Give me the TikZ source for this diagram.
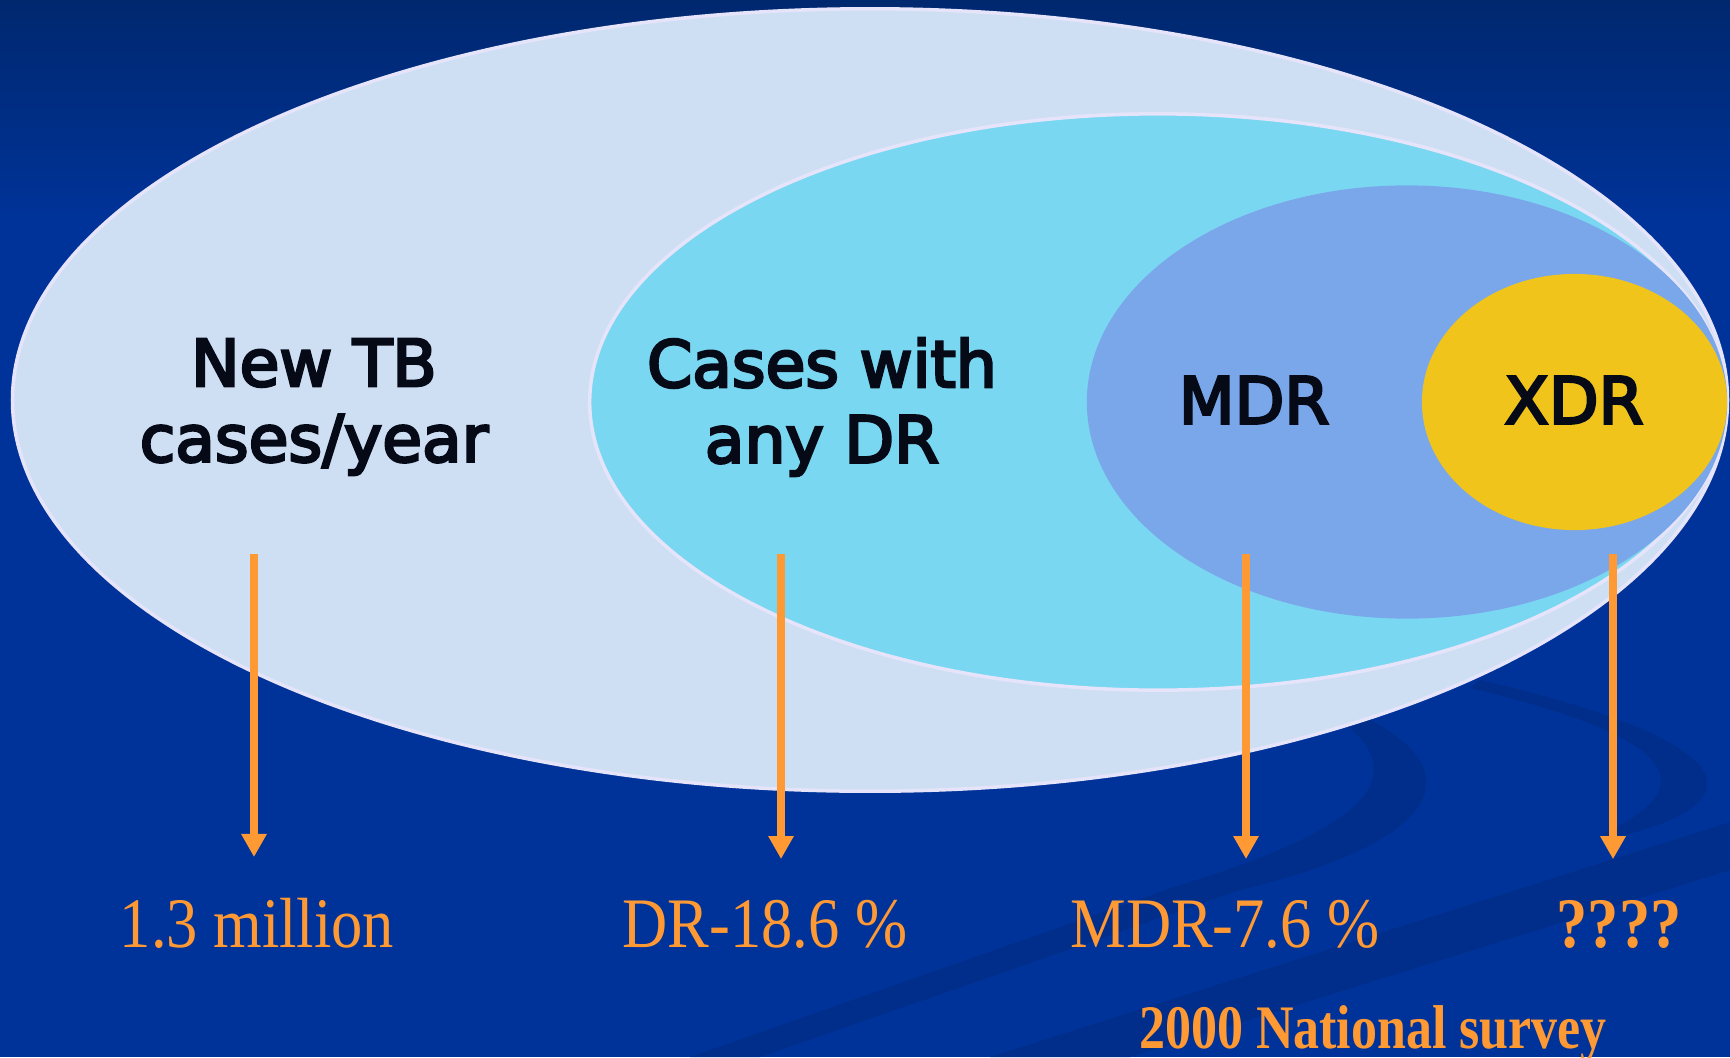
\documentclass[tikz,border=0pt]{standalone}
\usepackage{fontspec}
\setmainfont{Liberation Serif}
\newfontfamily\zonefont[FakeBold=4]{DejaVu Sans}
\newfontfamily\valfont[FakeStretch=0.88]{Liberation Serif}
\newfontfamily\surveyfont[FakeStretch=0.84]{Liberation Serif}
\usepackage{xcolor}
\usetikzlibrary{shapes.geometric, arrows.meta, positioning, calc}
\definecolor{bgblue}{HTML}{003399}
\definecolor{bgtop}{HTML}{00286F}
\definecolor{swoosh}{HTML}{002E8A}
\definecolor{allcol}{HTML}{CFDFF3}
\definecolor{drcol}{HTML}{7AD7F1}
\definecolor{mdrcol}{HTML}{7AA7EA}
\definecolor{xdrcol}{HTML}{F0C41A}
\definecolor{rim}{HTML}{E6E4FA}
\definecolor{tborange}{HTML}{FF9933}
\definecolor{inktext}{HTML}{050A16}
\tikzset{
    zone/.style={
        ellipse,
        inner sep=0pt,
    },
    zonetext/.style={
        align=center,
        text=inktext,
        font=\zonefont\fontsize{18.4}{21.5}\selectfont,
    },
    valtext/.style={
        anchor=base,
        text=tborange,
        inner sep=0pt,
        font=\valfont\fontsize{20.2}{24}\selectfont,
    },
    pointer/.style={
        draw=tborange,
        line width=2.1pt,
        shorten >=0.4cm,
        -{Triangle[width=0.24cm,length=0.23cm]},
    },
}

\begin{document}
\begin{tikzpicture}[x=0.01cm, y=-0.01cm]
      \useasboundingbox (0,0) rectangle (1730,1057);
      % background and swooshes
      \fill[bgblue] (0,0) rectangle (1730,1057);
      \shade[top color=bgtop, bottom color=bgblue] (0,0) rectangle (1730,220);
      \fill[swoosh] (1290,690) .. controls (1470,740) and (1490,830) .. (1240,890)
            -- (760,1057) -- (690,1057) -- (1180,885)
            .. controls (1410,815) and (1420,755) .. (1290,690) -- cycle;
      \fill[swoosh] (1480,680) .. controls (1740,740) and (1760,800) .. (1625,835)
            -- (1600,835) .. controls (1700,790) and (1690,740) .. (1470,688) -- cycle;
      \fill[swoosh] (1730,822) -- (1730,870) -- (1130,1057) -- (990,1057) -- cycle;

      % nested zones
      \node[zone, fill=allcol, draw=rim, line width=1pt, minimum width=17.14cm, minimum height=7.82cm] (all) at (870,400) {};
      \node[zone, fill=drcol, draw=rim, line width=1pt, minimum width=11.36cm, minimum height=5.76cm] (dr) at (1158,402) {};
      \node[zone, fill=mdrcol, minimum width=6.40cm, minimum height=4.33cm] (mdr) at (1407,402) {};
      \node[zone, fill=xdrcol, minimum width=3.05cm, minimum height=2.56cm] (xdr) at (1574.5,402) {};

      \node[zonetext] (alltext) at (314,407) {New TB\\cases/year};
      \node[zonetext] (drtext) at (822,407) {Cases with\\any DR};
      \node[zonetext] (mdrtext) at (1254,400) {MDR};
      \node[zonetext] (xdrtext) at (1574,400) {XDR};

      % values
      \node[valtext] (allval) at (257,947) {1.3 million};
      \node[valtext] (drval) at (765,947) {DR-18.6 \%};
      \node[valtext] (mdrval) at (1225,947) {MDR-7.6 \%};
      \node[valtext, font=\valfont\bfseries\fontsize{20.2}{24}\selectfont] (xdrval) at (1619,947) {????};
      \node[valtext, font=\surveyfont\bfseries\fontsize{17.6}{20}\selectfont] (survey) at (1373,1048) {2000 National survey};

      \coordinate (s1) at (254,554);
      \coordinate (s2) at (781,554);
      \coordinate (s3) at (1246,554);
      \coordinate (s4) at (1613,554);
      \draw[pointer] (s1) -- (s1 |- allval.north);
      \draw[pointer] (s2) -- (s2 |- drval.north);
      \draw[pointer] (s3) -- (s3 |- mdrval.north);
      \draw[pointer] (s4) -- (s4 |- xdrval.north);
\end{tikzpicture}
\end{document}
